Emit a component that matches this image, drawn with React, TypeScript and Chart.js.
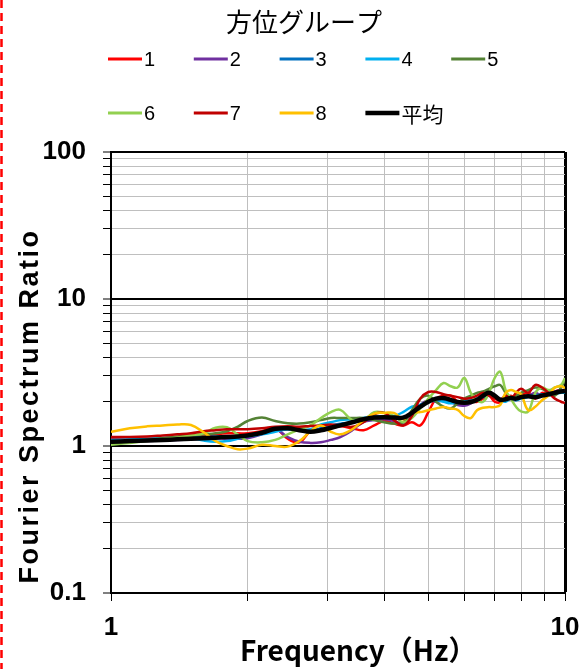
import React, { useEffect, useRef } from 'react';
import { Chart, registerables } from 'chart.js';

Chart.register(...registerables);

// ---- data ----
const frequencies = [1.0, 1.1, 1.2, 1.3, 1.4, 1.5, 1.6, 1.7, 1.8, 1.9, 2.0, 2.15, 2.3, 2.45, 2.6, 2.75, 2.9, 3.05, 3.2, 3.4, 3.6, 3.8, 4.0, 4.2, 4.4, 4.6, 4.8, 5.0, 5.2, 5.4, 5.6, 5.8, 6.0, 6.2, 6.4, 6.6, 6.8, 7.0, 7.2, 7.4, 7.6, 7.8, 8.0, 8.3, 8.6, 8.9, 9.2, 9.5, 9.8, 10.0];

const group1 = [1.12, 1.12, 1.12, 1.13, 1.14, 1.15, 1.17, 1.2, 1.22, 1.22, 1.22, 1.26, 1.32, 1.12, 1.06, 1.26, 1.3, 1.32, 1.36, 1.32, 1.28, 1.38, 1.48, 1.42, 1.38, 1.45, 1.38, 1.7, 2.1, 2.2, 2.2, 2.0, 1.9, 2.0, 2.0, 2.1, 2.2, 2.0, 1.98, 2.1, 2.2, 2.1, 2.2, 2.3, 2.1, 2.3, 2.25, 2.35, 2.4, 2.35];
const group2 = [1.06, 1.07, 1.08, 1.09, 1.1, 1.11, 1.12, 1.13, 1.12, 1.12, 1.13, 1.2, 1.3, 1.15, 1.07, 1.05, 1.06, 1.1, 1.15, 1.28, 1.46, 1.5, 1.52, 1.48, 1.42, 1.6, 1.9, 2.05, 2.0, 2.05, 2.0, 1.9, 1.88, 1.95, 2.1, 2.3, 2.35, 2.2, 2.1, 2.1, 2.1, 2.05, 2.15, 2.2, 2.3, 2.2, 2.3, 2.35, 2.4, 2.4];
const group3 = [1.1, 1.1, 1.11, 1.12, 1.13, 1.14, 1.15, 1.16, 1.16, 1.17, 1.18, 1.22, 1.28, 1.3, 1.3, 1.28, 1.32, 1.38, 1.42, 1.45, 1.5, 1.55, 1.58, 1.55, 1.55, 1.7, 1.9, 2.0, 2.1, 2.05, 2.0, 2.0, 1.95, 2.0, 2.1, 2.15, 2.2, 2.15, 2.05, 2.1, 2.15, 2.1, 2.15, 2.2, 2.2, 2.25, 2.25, 2.3, 2.35, 2.3];
const group4 = [1.1, 1.11, 1.12, 1.14, 1.15, 1.13, 1.09, 1.07, 1.08, 1.12, 1.16, 1.2, 1.25, 1.3, 1.28, 1.3, 1.4, 1.45, 1.5, 1.52, 1.55, 1.6, 1.58, 1.6, 1.7, 1.85, 1.9, 2.0, 2.05, 2.0, 1.95, 2.0, 2.05, 2.05, 2.1, 2.2, 2.2, 2.15, 2.05, 2.0, 2.1, 2.05, 2.1, 2.15, 2.2, 2.2, 2.2, 2.25, 2.3, 2.3];
const group5 = [1.05, 1.07, 1.1, 1.13, 1.16, 1.18, 1.2, 1.22, 1.26, 1.35, 1.48, 1.56, 1.48, 1.43, 1.42, 1.45, 1.5, 1.55, 1.55, 1.55, 1.55, 1.5, 1.45, 1.42, 1.45, 1.75, 2.1, 2.2, 2.0, 1.85, 1.8, 1.95, 2.1, 2.2, 2.3, 2.35, 2.45, 2.55, 2.6, 2.3, 2.15, 2.2, 2.3, 2.4, 2.5, 2.45, 2.3, 2.2, 2.5, 2.8];
const group6 = [1.02, 1.05, 1.08, 1.11, 1.14, 1.18, 1.22, 1.33, 1.34, 1.2, 1.08, 1.06, 1.1, 1.2, 1.3, 1.38, 1.55, 1.7, 1.76, 1.5, 1.5, 1.7, 1.68, 1.6, 1.45, 1.55, 1.8, 2.1, 2.4, 2.68, 2.55, 2.5, 2.9, 2.3, 2.05, 2.0, 2.3, 2.9, 3.2, 2.4, 2.1, 1.85, 1.72, 1.72, 2.3, 2.5, 2.4, 2.5, 2.6, 2.9];
const group7 = [1.15, 1.15, 1.16, 1.18, 1.2, 1.22, 1.26, 1.28, 1.3, 1.3, 1.3, 1.32, 1.35, 1.36, 1.35, 1.37, 1.38, 1.4, 1.38, 1.35, 1.45, 1.65, 1.68, 1.5, 1.38, 1.6, 2.1, 2.33, 2.33, 2.25, 2.2, 2.15, 2.1, 2.12, 2.2, 2.3, 2.2, 2.1, 2.05, 2.2, 2.1, 2.3, 2.45, 2.3, 2.6, 2.5, 2.3, 2.1, 2.0, 1.96];
const group8 = [1.25, 1.32, 1.36, 1.38, 1.4, 1.39, 1.24, 1.08, 1.0, 0.95, 0.96, 1.02, 1.0, 0.99, 1.08, 1.26, 1.38, 1.25, 1.2, 1.3, 1.5, 1.66, 1.68, 1.68, 1.52, 1.68, 1.7, 1.75, 1.8, 1.84, 1.8, 1.76, 1.6, 1.55, 1.75, 1.82, 1.84, 1.84, 1.9, 2.3, 2.4, 2.33, 2.25, 1.75, 1.85, 2.05, 2.2, 2.5, 2.55, 2.48];
const average = [1.07, 1.08, 1.09, 1.1, 1.11, 1.12, 1.13, 1.14, 1.15, 1.16, 1.18, 1.23, 1.31, 1.32, 1.28, 1.25, 1.28, 1.33, 1.38, 1.45, 1.52, 1.56, 1.57, 1.56, 1.56, 1.68, 1.85, 2.0, 2.1, 2.12, 2.06, 1.99, 1.97, 1.99, 2.06, 2.2, 2.3, 2.2, 2.06, 2.08, 2.12, 2.1, 2.15, 2.18, 2.15, 2.2, 2.25, 2.3, 2.35, 2.36];

const seriesNames = ['1', '2', '3', '4', '5', '6', '7', '8', '平均'];
const seriesValues = [group1, group2, group3, group4, group5, group6, group7, group8, average];
const seriesColors = ['#FF0000', '#7030A0', '#0070C0', '#00B0F0', '#548235', '#92D050', '#C00000', '#FFC000', '#000000'];

const xTickValues = [1, 2, 3, 4, 5, 6, 7, 8, 9, 10];
const yTickValues = [0.1, 0.2, 0.3, 0.4, 0.5, 0.6, 0.7, 0.8, 0.9, 1, 2, 3, 4, 5, 6, 7, 8, 9, 10, 20, 30, 40, 50, 60, 70, 80, 90, 100];
const yTickLabels = ['0.1', '1', '10', '100'];
const xTickLabels = ['1', '10'];
const legendTitle = '方位グループ';
const xTitle = 'Frequency（Hz）';
const yTitle = 'Fourier Spectrum Ratio';

const isDecade = (v: number) => {
  const l = Math.log10(v);
  return Math.abs(l - Math.round(l)) < 1e-6;
};
const fmt = (v: number) => (v < 1 ? v.toFixed(1) : String(Math.round(v)));

const overlayPlugin = {
  id: 'overlay',
  afterDraw(chart: any) {
    const ctx = chart.ctx as any;
    ctx.save();
    // red dashed frame line at the left edge
    ctx.strokeStyle = '#FF0000';
    ctx.lineWidth = 2.5;
    ctx.setLineDash([8, 5]);
    ctx.beginPath();
    ctx.moveTo(1.5, 0);
    ctx.lineTo(1.5, chart.height);
    ctx.stroke();
    ctx.setLineDash([]);

    // legend title
    ctx.fillStyle = '#000';
    ctx.textBaseline = 'middle';
    ctx.textAlign = 'center';
    ctx.font = '26px "Noto Sans CJK JP"';
    ctx.fillText(legendTitle, 304, 22);

    // legend items
    const cols = 5;
    const colW = 85.8;
    const x0 = 108;
    const rowY = [59, 113];
    seriesNames.forEach((name, i) => {
      const r = Math.floor(i / cols);
      const c = i % cols;
      const x = x0 + c * colW;
      const y = rowY[r];
      ctx.strokeStyle = seriesColors[i];
      ctx.lineWidth = i === 8 ? 4.5 : 3;
      ctx.beginPath();
      ctx.moveTo(x, y);
      ctx.lineTo(x + 34, y);
      ctx.stroke();
      ctx.textAlign = 'left';
      ctx.font = /^\d+$/.test(name) ? '20px "Liberation Sans"' : '21px "Noto Sans CJK JP"';
      ctx.fillText(name, x + 36, y + 1);
    });

    // axis titles
    ctx.textAlign = 'left';
    ctx.font = 'bold 28px "Noto Sans CJK JP"';
    ctx.fillText(xTitle, 240, 650);
    ctx.font = 'bold 27px "Liberation Sans"';
    ctx.textAlign = 'center';
    try { ctx.letterSpacing = '2.5px'; } catch (e) { /* ignore */ }
    ctx.translate(31, 406);
    ctx.rotate(-Math.PI / 2);
    ctx.fillText(yTitle, 0, 0);
    ctx.restore();
  },
};

export default function App() {
  const ref = useRef<HTMLCanvasElement>(null);
  useEffect(() => {
    if (!ref.current) return;
    const datasets = seriesValues.map((vals, i) => ({
      label: seriesNames[i],
      data: vals.map((v, j) => ({ x: frequencies[j], y: v })),
      borderColor: seriesColors[i],
      backgroundColor: seriesColors[i],
      borderWidth: i === 8 ? 4.5 : 2.5,
      pointRadius: 0,
      tension: 0.4,
      fill: false,
      order: i === 8 ? 0 : 9 - i,
    }));
    const chart = new Chart(ref.current, {
      type: 'line',
      data: { datasets },
      plugins: [overlayPlugin],
      options: {
        animation: false,
        responsive: false,
        layout: { padding: { left: 0, right: 15, top: 152, bottom: 0 } },
        plugins: { legend: { display: false }, tooltip: { enabled: false } },
        scales: {
          x: {
            type: 'logarithmic',
            min: 1,
            max: 10,
            afterFit: (s: any) => { s.height = 76; s.paddingLeft = 0; s.paddingRight = 0; },
            afterBuildTicks: (s: any) => { s.ticks = xTickValues.map((v) => ({ value: v })); },
            border: { color: '#000', width: 2 },
            grid: {
              color: (c: any) => (c.tick && c.tick.value === 10 ? '#000' : '#BFBFBF'),
              lineWidth: (c: any) => (c.tick && c.tick.value === 10 ? 3 : 1),
              tickColor: '#000',
              tickWidth: 1,
              tickLength: 8,
            },
            ticks: {
              autoSkip: false,
              maxRotation: 0,
              padding: 11,
              color: '#000',
              font: { family: 'Liberation Sans', size: 26, weight: 'bold' },
              callback: (v: any) => {
                const s = fmt(Number(v));
                return isDecade(Number(v)) && xTickLabels.includes(s) ? s : '';
              },
            },
          },
          y: {
            type: 'logarithmic',
            min: 0.1,
            max: 100,
            afterFit: (s: any) => { s.width = 111; s.paddingTop = 0; s.paddingBottom = 0; },
            afterBuildTicks: (s: any) => { s.ticks = yTickValues.map((v) => ({ value: v })); },
            border: { color: '#000', width: 2 },
            grid: {
              color: (c: any) => (c.tick && isDecade(c.tick.value) ? '#000' : '#BFBFBF'),
              lineWidth: (c: any) => (c.tick && isDecade(c.tick.value) ? 2 : 1),
              tickColor: '#000',
              tickWidth: 1,
              tickLength: 8,
            },
            ticks: {
              autoSkip: false,
              padding: 17,
              color: '#000',
              font: { family: 'Liberation Sans', size: 26, weight: 'bold' },
              callback: (v: any) => {
                const s = fmt(Number(v));
                return isDecade(Number(v)) && yTickLabels.includes(s) ? s : '';
              },
            },
          },
        },
      },
    } as any);
    return () => chart.destroy();
  }, []);
  return (
    <div style={{ position: 'absolute', left: 0, top: 0, width: 580, height: 669, background: '#fff' }}>
      <canvas ref={ref} width={580} height={669} style={{ display: 'block' }} />
    </div>
  );
}
